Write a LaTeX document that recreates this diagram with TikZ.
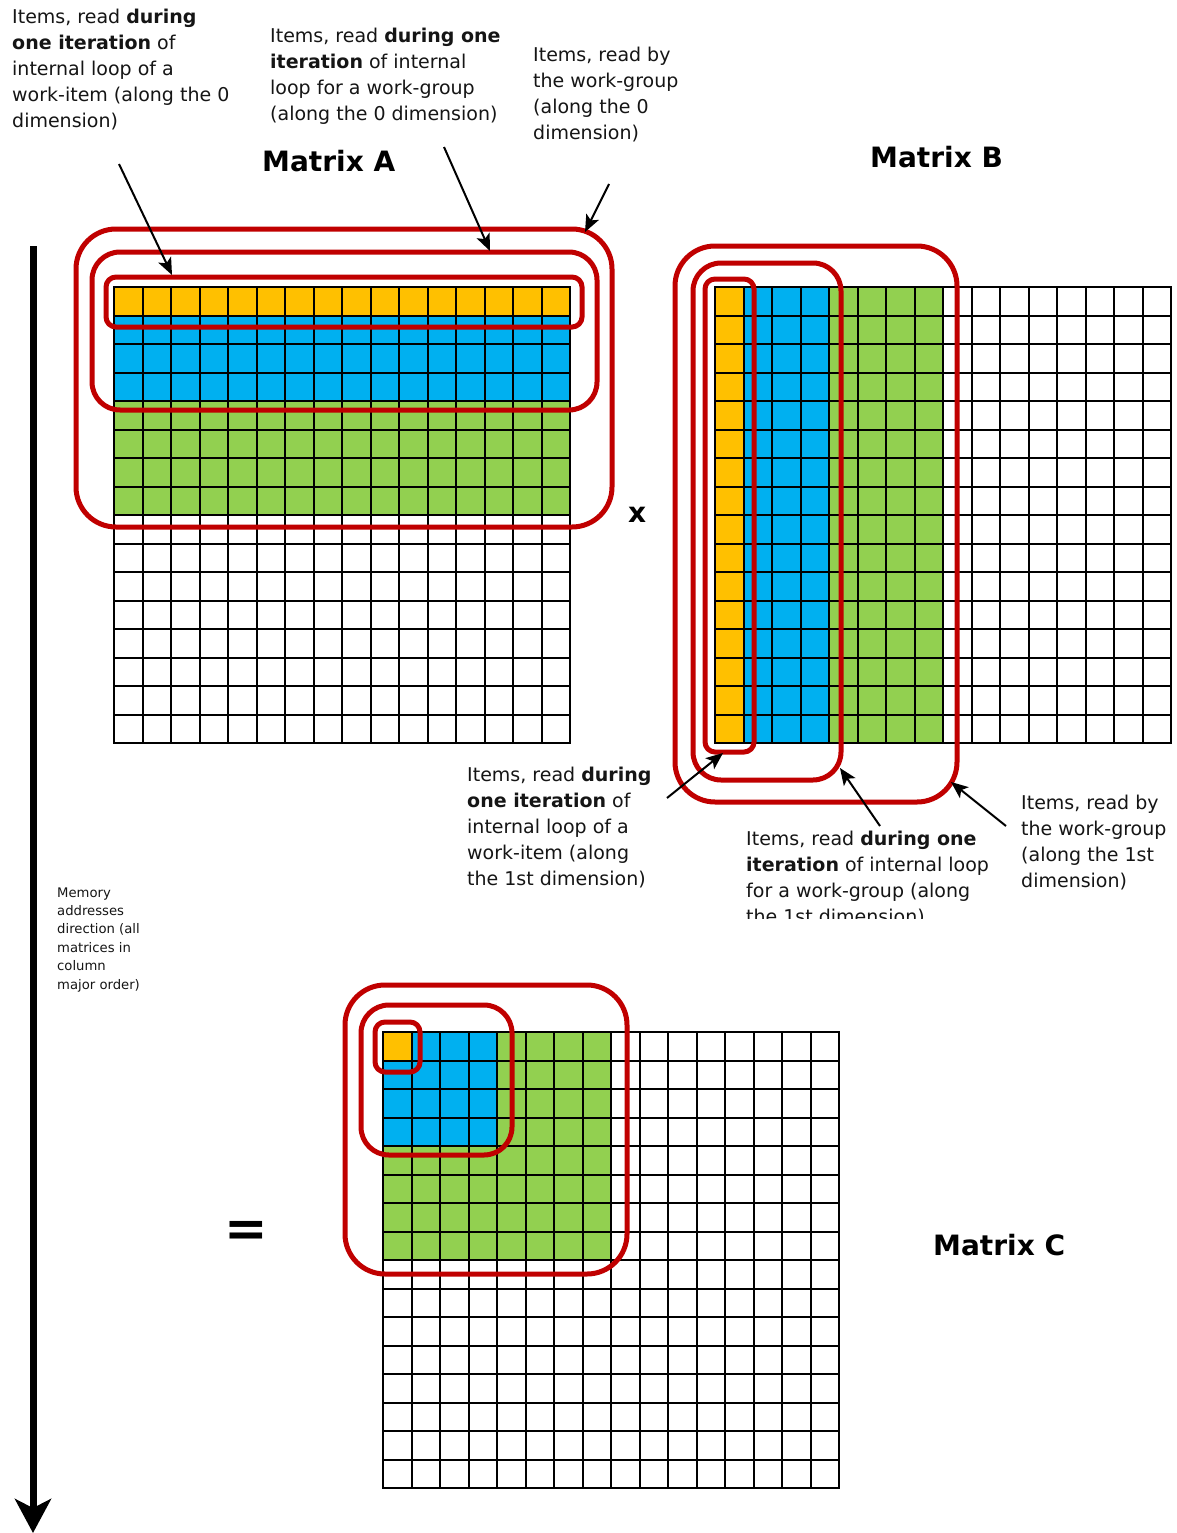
\documentclass[tikz,border=0pt]{standalone}
\usepackage{fontspec}
\setmainfont{DejaVu Sans}
\usetikzlibrary{arrows.meta}
\definecolor{cyel}{HTML}{FFC000}
\definecolor{cblu}{HTML}{00B0F0}
\definecolor{cgrn}{HTML}{92D050}
\definecolor{cred}{HTML}{C00000}
\definecolor{ctxt}{HTML}{151515}
\tikzset{
  gridln/.style={line width=2pt, black, line cap=rect},
  redbox/.style={draw=cred, line width=5pt},
  ptr/.style={line width=2pt, black, -{Stealth[length=17pt,width=14pt,inset=4pt]}},
  note/.style={anchor=base west, align=left, inner sep=0pt, text=ctxt, font=\fontsize{19}{26}\selectfont},
  smallnote/.style={anchor=base west, align=left, inner sep=0pt, text=ctxt, font=\fontsize{13.2}{18.4}\selectfont},
  mtitle/.style={anchor=base west, inner sep=0pt, font=\fontsize{28}{32}\selectfont\bfseries}
}
\newcommand\mygrid[2]{%
  \foreach \k in {0,...,16}{%
    \draw[gridln] ({#1+\k*28.5},#2) -- ({#1+\k*28.5},{#2+456});
    \draw[gridln] (#1,{#2+\k*28.5}) -- ({#1+456},{#2+\k*28.5});
  }}
\begin{document}
\begin{tikzpicture}[x=1pt,y=-1pt]
\useasboundingbox[fill=white] (0,0) rectangle (1177,1533);

% ---- Matrix A ----
\fill[cgrn] (114,287) rectangle (570,515);
\fill[cblu] (114,287) rectangle (570,401);
\fill[cyel] (114,287) rectangle (570,315.5);
\mygrid{114}{287}

% ---- Matrix B ----
\fill[cgrn] (715,287) rectangle (943,743);
\fill[cblu] (715,287) rectangle (829,743);
\fill[cyel] (715,287) rectangle (743.5,743);
\mygrid{715}{287}

% ---- Matrix C ----
\fill[cgrn] (383,1032) rectangle (611,1260);
\fill[cblu] (383,1032) rectangle (497,1146);
\fill[cyel] (383,1032) rectangle (411.5,1060.5);
\mygrid{383}{1032}

% ---- red groupings ----
\draw[redbox, rounded corners=10pt] (106,277) rectangle (582,327);
\draw[redbox, rounded corners=28pt] (92,252) rectangle (597,410);
\draw[redbox, rounded corners=40pt] (76,229) rectangle (612,527);

\draw[redbox, rounded corners=10pt] (705,279) rectangle (754,752);
\draw[redbox, rounded corners=28pt] (693,263) rectangle (841,780);
\draw[redbox, rounded corners=40pt] (675,246) rectangle (957,802);

\draw[redbox, rounded corners=10pt] (375,1022) rectangle (420,1072);
\draw[redbox, rounded corners=28pt] (361,1005) rectangle (512,1155);
\draw[redbox, rounded corners=40pt] (345,985) rectangle (627,1274);

% ---- titles ----
\node[mtitle] (tA) at (262,172) {Matrix A};
\node[mtitle] (tB) at (870,168) {Matrix B};
\node[mtitle] (tC) at (933,1255) {Matrix C};
\node[mtitle] (times) at (628,522) {x};
\node[inner sep=0pt, font=\fontsize{52}{56}\selectfont\bfseries] (eq) at (246,1234) {=};

% ---- notes (anchored at the baseline of the last line) ----
\node[note] (n1) at (12,128) {Items, read \textbf{during}\\\textbf{one iteration} of\\internal loop of a\\work-item (along the 0\\dimension)};
\node[note] (n2) at (270,121) {Items, read \textbf{during one}\\\textbf{iteration} of internal\\loop for a work-group\\(along the 0 dimension)};
\node[note] (n3) at (533,140) {Items, read by\\the work-group\\(along the 0\\dimension)};
\node[note] (n4) at (467,885) {Items, read \textbf{during}\\\textbf{one iteration} of\\internal loop of a\\work-item (along\\the 1st dimension)};
\begin{scope}
\clip (740,820) rectangle (1010,918);
\node[note] (n5) at (746,923) {Items, read \textbf{during one}\\\textbf{iteration} of internal loop\\for a work-group (along\\the 1st dimension)};
\end{scope}
\node[note] (n6) at (1021,887) {Items, read by\\the work-group\\(along the 1st\\dimension)};
\node[smallnote] (mem) at (57,989) {Memory\\addresses\\direction (all\\matrices in\\column\\major order)};

% ---- pointers ----
\coordinate (s1) at (119,164); \coordinate (e1) at (172,275);
\coordinate (s2) at (444,147); \coordinate (e2) at (490,251);
\coordinate (s3) at (609,184); \coordinate (e3) at (585,232);
\coordinate (s4) at (667,798); \coordinate (e4) at (723,753);
\coordinate (s5) at (880,826); \coordinate (e5) at (840,768);
\coordinate (s6) at (1006,826); \coordinate (e6) at (951,782);
\draw[ptr] (s1) -- (e1);
\draw[ptr] (s2) -- (e2);
\draw[ptr] (s3) -- (e3);
\draw[ptr] (s4) -- (e4);
\draw[ptr] (s5) -- (e5);
\draw[ptr] (s6) -- (e6);

% ---- memory direction arrow ----
\coordinate (mtop) at (33,246);
\coordinate (mbot) at (33,1533);
\draw[line width=7pt, -{Stealth[length=34pt,width=36pt,inset=9pt]}] (mtop) -- (mbot);
\end{tikzpicture}
\end{document}
